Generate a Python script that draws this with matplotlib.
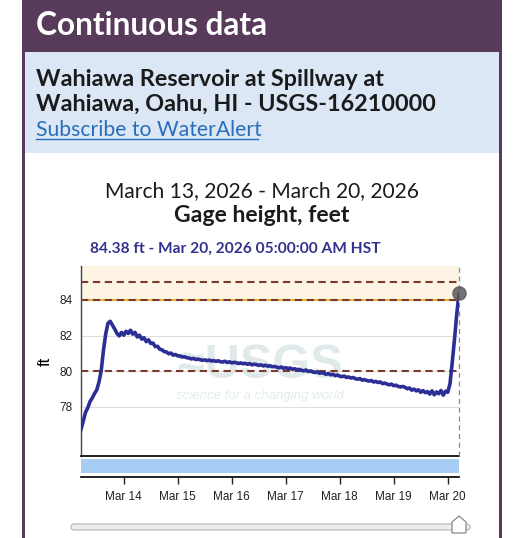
import numpy as np
import pandas as pd
import matplotlib
matplotlib.use("Agg")
import matplotlib.pyplot as plt
import matplotlib.dates as mdates
from matplotlib.patches import Rectangle, FancyBboxPatch, Polygon

# hourly gage height, ft, starting Mar 13 2026 05:00 HST
gage_ft = [
    76.75, 77.20, 77.70, 77.95, 78.30, 78.50, 78.75, 78.95, 79.40, 80.05, 81.20, 82.10,
    82.70, 82.80, 82.58, 82.36, 82.12, 81.98, 82.18, 82.02, 82.24, 82.12, 82.30, 82.08,
    82.18, 81.92, 82.02, 81.80, 81.88, 81.66, 81.76, 81.56, 81.58, 81.38, 81.40, 81.24,
    81.20, 81.10, 81.08, 80.98, 81.02, 80.90, 80.94, 80.86, 80.86, 80.80, 80.81, 80.76,
    80.74, 80.69, 80.72, 80.66, 80.68, 80.65, 80.61, 80.64, 80.59, 80.63, 80.57, 80.60,
    80.55, 80.59, 80.53, 80.52, 80.56, 80.49, 80.53, 80.47, 80.50, 80.48, 80.43, 80.47,
    80.42, 80.45, 80.39, 80.43, 80.36, 80.40, 80.37, 80.33, 80.36, 80.30, 80.34, 80.28,
    80.31, 80.25, 80.27, 80.23, 80.19, 80.24, 80.17, 80.20, 80.15, 80.18, 80.11, 80.14,
    80.08, 80.11, 80.06, 80.02, 80.07, 79.98, 80.02, 79.96, 79.93, 79.97, 79.89, 79.92,
    79.88, 79.83, 79.87, 79.80, 79.83, 79.75, 79.79, 79.72, 79.70, 79.73, 79.65, 79.68,
    79.62, 79.65, 79.58, 79.55, 79.59, 79.50, 79.53, 79.48, 79.45, 79.48, 79.40, 79.43,
    79.37, 79.40, 79.31, 79.34, 79.28, 79.24, 79.28, 79.19, 79.22, 79.15, 79.12, 79.15,
    79.10, 79.02, 79.06, 78.94, 79.00, 78.90, 78.96, 78.82, 78.92, 78.80, 78.86, 78.72,
    78.90, 78.68, 78.84, 78.74, 78.92, 78.66, 78.88, 78.82, 79.30, 80.50, 81.80, 83.20,
    84.38,
]
start_time = "2026-03-13 05:00"
end_time = "2026-03-20 05:00"
latest_ft = 84.38
flood_levels = [85, 84, 80]   # dashed threshold lines
y_ticks = [78, 80, 82, 84]
x_ticks = ["2026-03-14", "2026-03-15", "2026-03-16", "2026-03-17",
           "2026-03-18", "2026-03-19", "2026-03-20"]

W, H = 526, 538
PURPLE = "#583a5b"
PANEL = "#dbe7f5"
LINE = "#2b2e94"
BROWN = "#7a3b2e"

times = pd.date_range(start_time, periods=len(gage_ft), freq="h")
t0, t1 = pd.Timestamp(start_time), pd.Timestamp(end_time)

fig = plt.figure(figsize=(W / 100, H / 100), dpi=100)
fig.patch.set_facecolor("white")

# background layer in pixel coordinates
bg = fig.add_axes([0, 0, 1, 1], zorder=0)
bg.set_xlim(0, W)
bg.set_ylim(H, 0)
bg.axis("off")

bg.add_patch(Rectangle((22, 0), 480, H, color=PURPLE, lw=0))
bg.add_patch(Rectangle((25, 52), 474, 101, color=PANEL, lw=0))
bg.add_patch(Rectangle((25, 153), 474, H - 153, color="white", lw=0))

hdr = dict(family=["Lato", "DejaVu Sans"])
bg.text(36, 35, "Continuous data", color="white", fontsize=22.8, fontweight="bold",
        va="baseline", **hdr)
bg.text(36, 86, "Wahiawa Reservoir at Spillway at", color="#1b1b1b", fontsize=16.8,
        fontweight="bold", va="baseline", **hdr)
bg.text(36, 111, "Wahiawa, Oahu, HI - USGS-16210000", color="#1b1b1b", fontsize=16.8,
        fontweight="bold", va="baseline", **hdr)
bg.text(36, 136, "Subscribe to WaterAlert", color="#2a6ebb", fontsize=15.2,
        va="baseline", **hdr)
bg.plot([36, 258], [139, 139], color="#2a6ebb", lw=1)

bg.text(262, 197, "March 13, 2026 - March 20, 2026", color="#1b1b1b", fontsize=15.1,
        ha="center", va="baseline", **hdr)
bg.text(262, 222, "Gage height, feet", color="#1b1b1b", fontsize=16.6,
        fontweight="bold", ha="center", va="baseline", **hdr)
bg.text(90, 253, f"{latest_ft:.2f} ft - Mar 20, 2026 05:00:00 AM HST", color="#33338f",
        fontsize=11.2, fontweight="bold", va="baseline", **hdr)

# faint USGS watermark behind the plot
bg.text(260, 366, "\u2248USGS", color="#e0eaea", fontsize=35, fontweight="bold",
        ha="center", va="center", family="Liberation Sans")
bg.text(260, 396, "science for a changing world", color="#e4ecee", fontsize=9.5,
        style="italic", ha="center", va="center", family="Liberation Sans")

# slider under the chart
bg.add_patch(FancyBboxPatch((71, 524), 399, 6, boxstyle="round,pad=0,rounding_size=3",
                            fc="#eeeeee", ec="#b5b5b5", lw=0.8))
bg.add_patch(Polygon([(452, 533), (452, 522), (459, 516), (466, 522), (466, 533)],
                     closed=True, fc="white", ec="#8a8a8a", lw=0.9))

# main chart axes
ax = fig.add_axes([81 / W, 1 - 456 / H, 378 / W, 190 / H], zorder=2)
ax.set_facecolor("none")
ax.set_xlim(t0, t1)
ax.set_ylim(75.25, 85.9)
ax.axhspan(84, 85.9, color="#fdf4e4", lw=0, zorder=0)
for v in y_ticks:
    ax.axhline(v, color="#dedede", lw=0.8, zorder=1)
ax.axhline(84, color="#e3b43c", lw=1.5, zorder=2)
for v in flood_levels:
    ax.axhline(v, color=BROWN, lw=1.5, ls=(0, (3.5, 2.2)), zorder=3)
ax.axvline(t1, color="#8a8a8a", lw=0.9, ls=(0, (4, 3)), zorder=3, clip_on=False)
ax.plot(times, gage_ft, color=LINE, lw=2.6, zorder=4, solid_joinstyle="round")
ax.plot([t1], [latest_ft], "o", ms=9.5, color="#5a5a5a", alpha=0.85, zorder=5,
        clip_on=False)

ax.set_yticks(y_ticks)
ax.set_xticks([])
ax.tick_params(axis="y", length=0, pad=6, labelsize=8.5, colors="#222222")
for lbl in ax.get_yticklabels():
    lbl.set_family("Liberation Sans")
ax.set_ylabel("ft", fontsize=12, family="Liberation Sans", labelpad=5)
for s in ["top", "right"]:
    ax.spines[s].set_visible(False)
ax.spines["left"].set_color("#444444")
ax.spines["left"].set_linewidth(1.0)
ax.spines["bottom"].set_color("#111111")
ax.spines["bottom"].set_linewidth(1.3)

# brush strip with the date axis
ax2 = fig.add_axes([81 / W, 1 - 477 / H, 378 / W, 18 / H], zorder=2)
ax2.set_facecolor("none")
ax2.set_xlim(t0, t1)
ax2.set_ylim(0, 18)
ax2.axhspan(4, 18, color="#a8cdf5", lw=0)
ax2.set_yticks([])
ax2.set_xticks(pd.to_datetime(x_ticks))
ax2.xaxis.set_major_formatter(mdates.DateFormatter("Mar %d"))
ax2.tick_params(axis="x", length=5, width=1, pad=5, labelsize=8.5, colors="#222222")
for lbl in ax2.get_xticklabels():
    lbl.set_family("Liberation Sans")
for s in ["top", "right", "left"]:
    ax2.spines[s].set_visible(False)
ax2.spines["bottom"].set_color("#111111")
ax2.spines["bottom"].set_linewidth(1.3)

fig.savefig("out.png", dpi=100)
